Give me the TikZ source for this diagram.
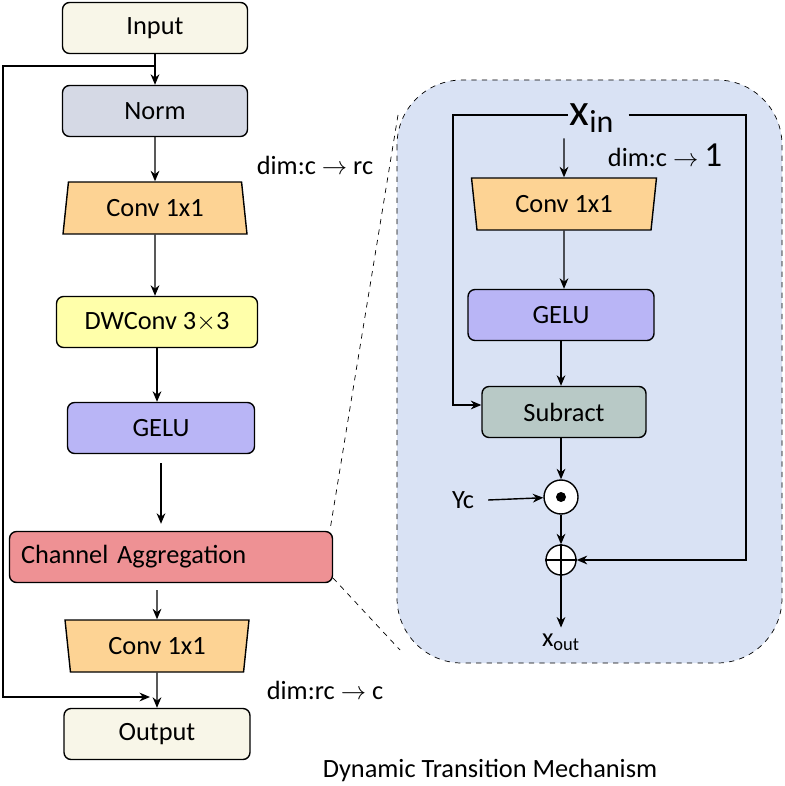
\documentclass[tikz,border=0pt]{standalone}
\usepackage{fontspec}
\setmainfont{Carlito}
\usetikzlibrary{shapes.geometric,
                calc, %for relative coord calculations
                arrows.meta, % for arrow tips
                positioning}
\definecolor{cream}{HTML}{F8F6E8}
\definecolor{normgray}{HTML}{D5D9E5}
\definecolor{convorange}{HTML}{FDD394}
\definecolor{dwyellow}{HTML}{FFFFAA}
\definecolor{gelupurple}{HTML}{B9B5F6}
\definecolor{aggred}{HTML}{EE9194}
\definecolor{subgreen}{HTML}{B8C9C6}
\definecolor{panelblue}{HTML}{D9E2F4}

\begin{document}
\begin{tikzpicture}[x=0.02cm, y=-0.02cm,
                    font=\fontsize{15}{18}\selectfont,
                    >={Stealth[length=6pt,width=5pt]},
                    Block/.style={draw, thick, rounded corners=4pt, minimum height=1.02cm, inner sep=0pt},
                    ConvUp/.style={draw, thick, trapezium, trapezium stretches=true, trapezium angle=80, minimum width=3.7cm, minimum height=1.04cm, fill=convorange, inner sep=0pt},
                    ConvDown/.style={ConvUp, shape border rotate=180},
                    Flow/.style={->, thick},
                    Op/.style={draw, thick, circle, fill=white, inner sep=0pt}
                    ]
    \useasboundingbox (0,0) rectangle (784,786);

    % PANEL %
    \draw[dashed, fill=panelblue, rounded corners=1.3cm] (397,80) rectangle (782,663);
    \draw[dashed] (398,115) -- (330,530);
    \draw[dashed] (333,578) -- (400,650);

    % MAIN CHAIN %
    \node[Block, fill=cream, minimum width=3.7cm] (In) at (155,28) {Input};
    \node[Block, fill=normgray, minimum width=3.7cm] (Norm) at (155,111) {Norm};
    \node[ConvUp] (C1) at (155,208) {Conv 1x1};
    \node[Block, fill=dwyellow, minimum width=4.02cm] (DW) at (157,322) {DWConv 3$\times$3};
    \node[Block, fill=gelupurple, minimum width=3.74cm] (G) at (161,428) {GELU};
    \node[Block, fill=aggred, minimum width=6.46cm, text width=6.0cm, align=left] (CA) at (171,557) {Channel Aggregation};
    \node[ConvDown, minimum width=3.7cm] (C2) at (157,646) {Conv 1x1};
    \node[Block, fill=cream, minimum width=3.72cm] (Out) at (157,734) {Output};

    \node (L1) at (315,165) {dim:c $\rightarrow$ rc};
    \node (L2) at (325,690) {dim:rc $\rightarrow$ c};
    \node (T) at (490,770) {Dynamic Transition Mechanism};

    \draw[Flow] (In) -- (Norm);
    \draw[Flow] (Norm) -- (C1);
    \draw[Flow] (C1) -- (C1 |- DW.north);
    \draw[Flow] (DW) -- (DW |- G.north);
    \draw[Flow] ($(G.south)+(0,9)$) -- ($(G.south |- CA.north)+(0,-7)$);
    \draw[Flow] ($(CA.south -| C2)+(0,7)$) -- (C2.north);
    \draw[Flow] (C2) -- (Out);
    \coordinate (S) at (155,66);
    \draw[Flow] (S) -- (3,66) -- (3,697) -- (150,697);

    % INNER BRANCH %
    \node[font=\fontsize{26}{28}\selectfont, inner sep=1pt] (Xin) at (592,118) {x\textsubscript{in}};
    \node (L3) at (665,155) {dim:c $\rightarrow$ {\fontsize{20}{22}\selectfont 1}};
    \node[ConvDown, minimum width=3.72cm] (C3) at (564,204) {Conv 1x1};
    \node[Block, fill=gelupurple, minimum width=3.72cm] (G2) at (561,315) {GELU};
    \node[Block, fill=subgreen, minimum width=3.28cm] (Sub) at (564,412) {Subract};
    \node[Op, minimum size=0.68cm] (Mul) at (561,497) {};
    \fill (Mul) circle (0.1cm);
    \node[Op, minimum size=0.6cm] (Add) at (561,560) {};
    \draw[thick] (Add.north) -- (Add.south) (Add.west) -- (Add.east);
    \node (Yc) at (463,500) {Yc};
    \node (Xout) at (561,642) {x\textsubscript{out}};

    \draw[Flow] ($(Xin.south -| C3)+(0,4)$) -- (C3);
    \draw[Flow] (C3) -- (C3 |- G2.north);
    \draw[Flow] (G2) -- (G2 |- Sub.north);
    \draw[Flow] (Sub.south -| Mul) -- (Mul);
    \draw[Flow] (Mul) -- (Add);
    \draw[Flow] (Add) -- (Xout.north);
    \draw[Flow] ($(Yc.east)+(8,0)$) -- (Mul);
    \draw[Flow] (Xin.west |- 0,115) -- (453,115) -- (453,405) -- (Sub.west |- 0,405);
    \draw[Flow] ($(Xin.east |- 0,115)+(12,0)$) -- (746,115) -- (746,560) -- (Add);
\end{tikzpicture}
\end{document}
